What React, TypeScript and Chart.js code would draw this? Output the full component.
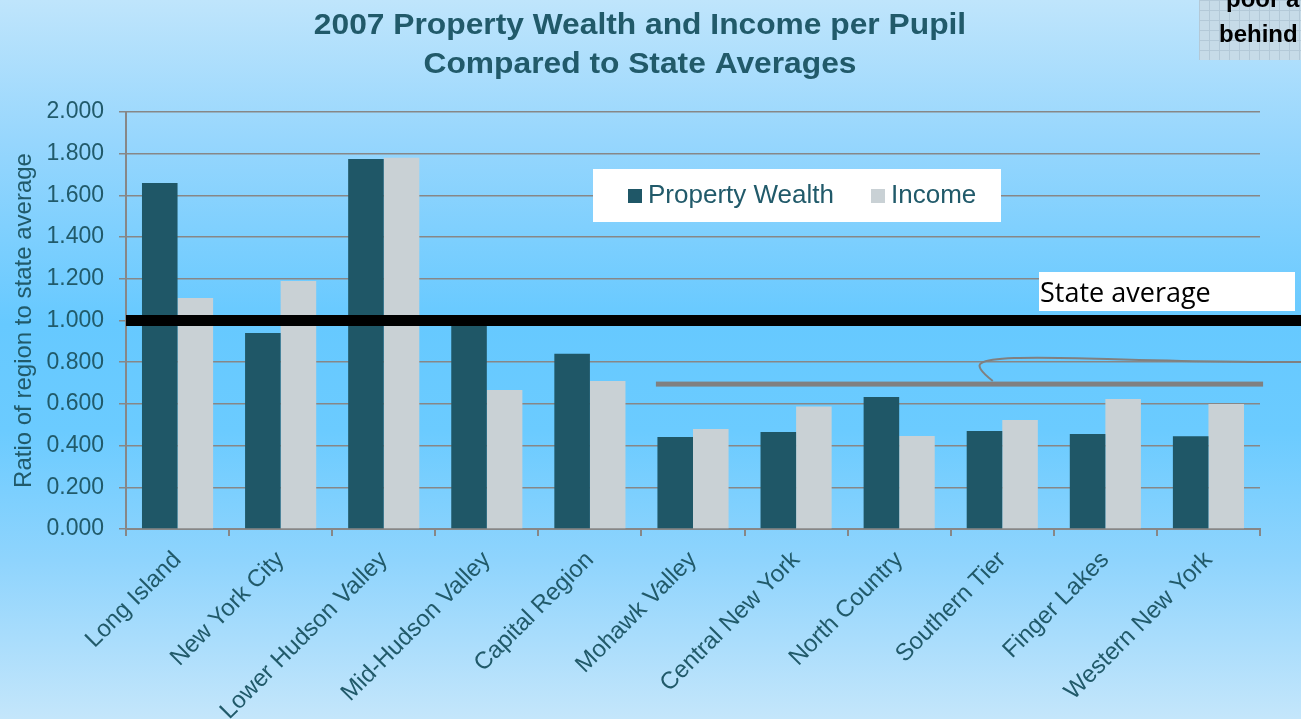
import React, { useEffect, useRef } from 'react';
import { Chart, registerables } from 'chart.js';

Chart.register(...registerables);

const categories = [
  'Long Island',
  'New York City',
  'Lower Hudson Valley',
  'Mid-Hudson Valley',
  'Capital Region',
  'Mohawk Valley',
  'Central New York',
  'North Country',
  'Southern Tier',
  'Finger Lakes',
  'Western New York',
];
const propertyWealth = [1.66, 0.94, 1.775, 0.98, 0.84, 0.441, 0.465, 0.633, 0.47, 0.456, 0.445];
const income = [1.108, 1.19, 1.78, 0.667, 0.71, 0.48, 0.587, 0.446, 0.523, 0.624, 0.6];
const seriesNames = ['Property Wealth', 'Income'];
const titleLines = ['2007 Property Wealth and Income per Pupil', 'Compared to State Averages'];
const yAxisTitle = 'Ratio of region to state average';
const yTickMin = 0;
const yTickMax = 2;
const yTickStep = 0.2;
const stateAverageValue = 1.0;
const stateAverageLabel = 'State average';
// gray marker line: value and category-index span
const markerValue = 0.695;
const markerFrom = 4.64;
const markerTo = 10.53;
// hand-drawn squiggle: [category index, value]
const squiggle: [number, number][] = [
  [7.908, 0.71],
  [7.733, 0.777],
  [7.859, 0.815],
  [8.374, 0.825],
  [9.665, 0.806],
  [10.51, 0.801],
  [10.908, 0.801],
];
const calloutLines = ['poor a', 'behind'];

const FONT = '"Liberation Sans", Arial, sans-serif';
const TEXT = '#215a6a';
const PW_COLOR = '#1f5767';
const INC_COLOR = '#c9d1d5';
const GRID = '#878787';

export default function App() {
  const ref = useRef<HTMLCanvasElement>(null);

  useEffect(() => {
    const canvas = ref.current!;
    const overlay = {
      id: 'overlay',
      afterDatasetsDraw(chart: any) {
        const ctx = chart.ctx as CanvasRenderingContext2D;
        const x = chart.scales.x;
        const y = chart.scales.y;
        const area = chart.chartArea;
        ctx.save();
        // State average line
        const ya = y.getPixelForValue(stateAverageValue);
        ctx.fillStyle = '#000';
        ctx.fillRect(area.left, ya - 5.5, chart.width - area.left, 11);
        // gray marker line
        const ym = y.getPixelForValue(markerValue);
        ctx.fillStyle = '#808080';
        ctx.fillRect(x.getPixelForValue(markerFrom), ym - 2.5, x.getPixelForValue(markerTo) - x.getPixelForValue(markerFrom), 5);
        // squiggle
        const pts = squiggle.map(([i, v]) => [x.getPixelForValue(i), y.getPixelForValue(v)]);
        ctx.strokeStyle = '#808080';
        ctx.lineWidth = 2;
        ctx.beginPath();
        ctx.moveTo(pts[0][0], pts[0][1]);
        for (let k = 1; k < pts.length - 1; k++) {
          const mx = (pts[k][0] + pts[k + 1][0]) / 2;
          const my = (pts[k][1] + pts[k + 1][1]) / 2;
          ctx.quadraticCurveTo(pts[k][0], pts[k][1], mx, my);
        }
        const last = pts[pts.length - 1];
        ctx.lineTo(last[0], last[1]);
        ctx.stroke();
        ctx.restore();
      },
      afterDraw(chart: any) {
        const ctx = chart.ctx as CanvasRenderingContext2D;
        ctx.save();
        // Title (stretched horizontally like the source)
        ctx.fillStyle = TEXT;
        ctx.font = `bold 29px ${FONT}`;
        ctx.textAlign = 'center';
        ctx.textBaseline = 'alphabetic';
        titleLines.forEach((line, i) => {
          ctx.save();
          ctx.translate(640, 34 + i * 39);
          ctx.scale(1.095, 1);
          ctx.fillText(line, 0, 0);
          ctx.restore();
        });

        // Legend box
        ctx.fillStyle = '#ffffff';
        ctx.fillRect(593, 169, 408, 53);
        ctx.font = `26px ${FONT}`;
        ctx.textAlign = 'left';
        ctx.textBaseline = 'middle';
        const items = chart.data.datasets.map((d: any) => ({ label: d.label, color: d.backgroundColor }));
        let lx = 628;
        items.forEach((it: any, i: number) => {
          ctx.fillStyle = it.color;
          ctx.fillRect(lx, 189, 14, 14);
          ctx.fillStyle = TEXT;
          ctx.fillText(it.label, lx + 20, 196);
          lx = i === 0 ? 871 : lx;
        });

        // State average label
        ctx.fillStyle = '#ffffff';
        ctx.fillRect(1039, 272, 256, 39);
        ctx.fillStyle = '#000000';
        ctx.font = `27px "Open Sans", sans-serif`;
        ctx.textBaseline = 'alphabetic';
        ctx.fillText(stateAverageLabel, 1040, 302);

        // Callout remnant at top right
        ctx.beginPath();
        ctx.rect(1199, 0, chart.width - 1199, 60);
        ctx.clip();
        ctx.fillStyle = '#c6dbe8';
        ctx.fillRect(1199, 0, chart.width - 1199, 60);
        ctx.strokeStyle = '#b3c9d8';
        ctx.lineWidth = 1;
        for (let gx = 1199; gx < chart.width; gx += 10) {
          ctx.beginPath();
          ctx.moveTo(gx + 0.5, 0);
          ctx.lineTo(gx + 0.5, 60);
          ctx.stroke();
        }
        for (let gy = 0; gy < 60; gy += 10) {
          ctx.beginPath();
          ctx.moveTo(1199, gy + 0.5);
          ctx.lineTo(chart.width, gy + 0.5);
          ctx.stroke();
        }
        ctx.fillStyle = '#000';
        ctx.font = `bold 24px ${FONT}`;
        ctx.fillText(calloutLines[0], 1226, 7);
        ctx.fillText(calloutLines[1], 1219, 42);
        ctx.restore();
      },
    };

    const chart = new Chart(canvas, {
      type: 'bar',
      data: {
        labels: categories,
        datasets: [
          { label: seriesNames[0], data: propertyWealth, backgroundColor: PW_COLOR, categoryPercentage: 0.69, barPercentage: 1 },
          { label: seriesNames[1], data: income, backgroundColor: INC_COLOR, categoryPercentage: 0.69, barPercentage: 1 },
        ],
      },
      options: {
        responsive: false,
        animation: false,
        devicePixelRatio: 1,
        layout: { padding: { top: 112, left: 8, right: 41, bottom: 0 } },
        plugins: {
          legend: { display: false },
          title: { display: false },
          tooltip: { enabled: false },
        },
        scales: {
          x: {
            offset: true,
            grid: { display: true, drawOnChartArea: false, drawTicks: true, tickLength: 7, color: GRID, lineWidth: 2, offset: true },
            border: { display: true, color: GRID, width: 2 },
            ticks: {
              color: TEXT,
              font: { family: FONT, size: 24 },
              minRotation: 45,
              maxRotation: 45,
              padding: 10,
              autoSkip: false,
            },
            afterFit(scale: any) {
              scale.height = 190;
            },
          },
          y: {
            min: yTickMin,
            max: yTickMax,
            grid: { color: GRID, lineWidth: 1.5, drawTicks: true, tickLength: 7 },
            border: { display: true, color: GRID, width: 2 },
            ticks: {
              stepSize: yTickStep,
              color: TEXT,
              font: { family: FONT, size: 23 },
              padding: 15,
              callback: (v: any) => Number(v).toFixed(3),
            },
            title: {
              display: true,
              text: yAxisTitle,
              color: TEXT,
              font: { family: FONT, size: 24 },
              padding: { top: 2, bottom: 0 },
            },
            afterFit(scale: any) {
              scale.width = 118;
            },
          },
        },
      },
      plugins: [overlay],
    });
    return () => chart.destroy();
  }, []);

  return (
    <div
      style={{
        position: 'fixed',
        left: 0,
        top: 0,
        width: 1301,
        height: 719,
        overflow: 'hidden',
        background: 'linear-gradient(180deg, #bfe5fc 0%, #96d6fd 20%, #66c9ff 45%, #6bcbff 60%, #8fd4fd 78%, #c4e6fb 100%)',
      }}
    >
      <canvas ref={ref} width={1301} height={719} style={{ display: 'block', width: 1301, height: 719 }} />
    </div>
  );
}
